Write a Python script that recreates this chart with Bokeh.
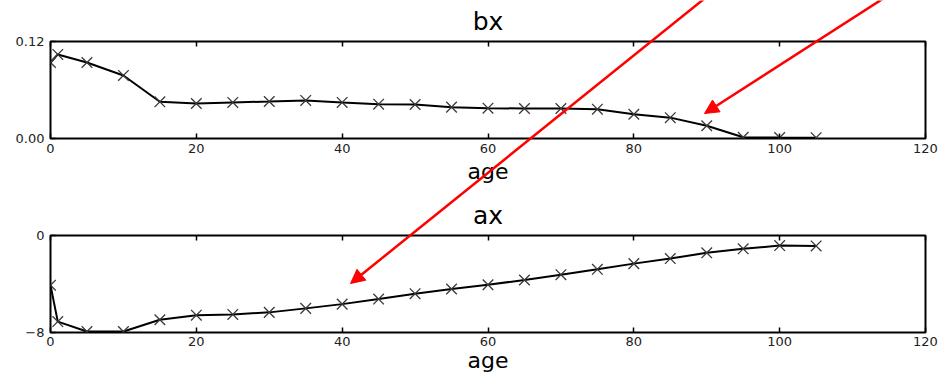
from bokeh.plotting import figure
from bokeh.models import Range1d, FixedTicker, LinearAxis, Arrow, NormalHead, CustomLabelingPolicy
from bokeh.layouts import column
from bokeh.embed import file_html
from bokeh.resources import INLINE

# ---- data ----
ages = [0, 1, 5, 10, 15, 20, 25, 30, 35, 40, 45, 50, 55, 60, 65, 70, 75, 80, 85, 90, 95, 100, 105]
bx = [0.094, 0.104, 0.094, 0.078, 0.0454, 0.0433, 0.0446, 0.0458, 0.0471, 0.0446, 0.0425, 0.0421,
      0.0388, 0.0375, 0.0371, 0.0371, 0.0363, 0.0300, 0.0258, 0.0158, 0.0015, 0.0012, 0.0010]
ax = [-4.1, -7.1, -7.92, -7.92, -6.95, -6.57, -6.51, -6.34, -6.01, -5.66, -5.24, -4.80,
      -4.41, -4.06, -3.67, -3.23, -2.79, -2.32, -1.90, -1.43, -1.10, -0.83, -0.86]
x_ticks = [0, 20, 40, 60, 80, 100, 120]
bx_ticks = [0, 0.12]
ax_ticks = [-8, 0]

FONT = "DejaVu Sans"


def panel(title, ys, y_lo, y_hi, yticks, overrides, height, b_top, b_bottom, lab_standoff, tick_standoff):
    p = figure(width=938, height=height, x_range=Range1d(0, 120), y_range=Range1d(y_lo, y_hi),
               output_backend="svg", toolbar_location=None,
               min_border_left=50, min_border_right=13, min_border_top=b_top, min_border_bottom=b_bottom,
               outline_line_color="black", outline_line_width=2, background_fill_color="white",
               border_fill_color="white")
    p.grid.visible = False
    p.title.text = title
    p.title.align = "center"
    p.title.text_font = FONT
    p.title.text_font_size = "25px"
    p.title.text_font_style = "normal"
    p.title.text_color = "black"
    p.title.standoff = 3

    xa = p.xaxis[0]
    xa.ticker = FixedTicker(ticks=x_ticks)
    xa.axis_label = "age"
    xa.axis_label_text_font = FONT
    xa.axis_label_text_font_size = "22px"
    xa.axis_label_text_font_style = "normal"
    xa.axis_label_text_color = "black"
    xa.axis_label_standoff = lab_standoff

    ya = p.yaxis[0]
    ya.ticker = FixedTicker(ticks=yticks)
    ya.major_label_overrides = overrides

    for a in (xa, ya):
        a.axis_line_color = None
        a.major_tick_in = 5
        a.major_tick_out = 0
        a.major_tick_line_width = 1.5
        a.major_tick_line_color = "black"
        a.minor_tick_line_color = None
        a.major_label_text_font = FONT
        a.major_label_text_font_size = "13px"
        a.major_label_text_color = "#222222"
    xa.major_label_standoff = tick_standoff
    ya.major_label_standoff = 6

    # mirrored inward ticks on the top edge, without labels
    top = LinearAxis(ticker=FixedTicker(ticks=x_ticks), axis_line_color=None,
                     major_tick_in=5, major_tick_out=0, major_tick_line_width=1.5,
                     minor_tick_line_color=None, major_label_standoff=0,
                     major_label_text_font_size="1px",
                     major_label_policy=CustomLabelingPolicy(code="return new Set()"))
    p.add_layout(top, "above")

    p.line(ages, ys, line_color="black", line_width=2)
    p.scatter(ages, ys, marker="x", size=15, line_color="#3a3a3a", line_width=1.3)
    return p


p1 = panel("bx", bx, 0, 0.12, bx_ticks, {0: "0.00", 0.12: "0.12"}, 190, 41, 52, 3, 5)
p2 = panel("ax", ax, -8, 0, ax_ticks, {-8: "\u22128", 0: "0"}, 185, 45, 43, -1, 4)

# ---- transparent overlay carrying the red annotation arrows (page pixel coordinates) ----
RED = "#ff0000"
overlay = figure(width=938, height=375, x_range=Range1d(0, 938), y_range=Range1d(375, 0),
                 output_backend="svg", toolbar_location=None, title=None,
                 x_axis_location=None, y_axis_location=None,
                 min_border=0, outline_line_color=None,
                 background_fill_color=None, border_fill_color=None,
                 styles={"position": "absolute", "top": "0px", "left": "0px", "z-index": "10",
                         "pointer-events": "none"})
overlay.grid.visible = False
arrows = [((889, -6), (704, 113)),   # points at bx around age 90
          ((709, -6), (350, 283))]   # points at ax around age 40
for (xs, ys_), (xe, ye) in arrows:
    overlay.add_layout(Arrow(end=NormalHead(size=14, fill_color=RED, line_color=RED, line_width=1),
                             x_start=xs, y_start=ys_, x_end=xe, y_end=ye,
                             line_color=RED, line_width=2.5))

layout = column(p1, p2, spacing=0)
open("out.html", "w").write(file_html([layout, overlay], INLINE))
